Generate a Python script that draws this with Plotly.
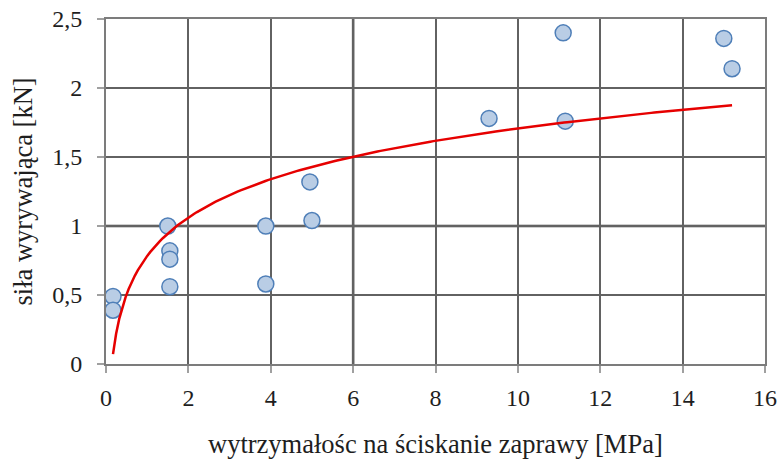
import numpy as np
import plotly.graph_objects as go

# Data
strength_mpa = [0.17, 0.17, 1.50, 1.55, 1.55, 1.55, 3.88, 3.88, 4.95, 5.00, 9.30, 11.10, 11.15, 15.00, 15.20]
pull_force_kn = [0.49, 0.39, 1.00, 0.82, 0.76, 0.56, 1.00, 0.58, 1.32, 1.04, 1.78, 2.40, 1.76, 2.36, 2.14]

x_ticks = [0, 2, 4, 6, 8, 10, 12, 14, 16]
y_ticks = [0, 0.5, 1, 1.5, 2, 2.5]
y_tick_labels = ["0", "0,5", "1", "1,5", "2", "2,5"]
emphasis_x = [6]
emphasis_y = [1]

x_title = "wytrzymałośc na ściskanie zaprawy [MPa]"
y_title = "siła wyrywająca [kN]"

# Logarithmic trend line fitted to the data (as a spreadsheet trendline would be)
lx = np.log(np.array(strength_mpa))
a, b = np.polyfit(lx, np.array(pull_force_kn), 1)
xt = np.linspace(min(strength_mpa), max(strength_mpa), 200)
yt = a * np.log(xt) + b

FONT = "Liberation Serif"
TXT = "#1e1e1e"
GRID = "#626262"
EDGE = "#7c7c7c"

fig = go.Figure()
fig.add_trace(go.Scatter(
    x=strength_mpa, y=pull_force_kn, mode="markers",
    marker=dict(size=16, color="#b9cde5", line=dict(color="#4f7fb8", width=1.5)),
    showlegend=False, hoverinfo="x+y"))
fig.add_trace(go.Scatter(
    x=xt, y=yt, mode="lines", line=dict(color="#e60000", width=2.5),
    showlegend=False, hoverinfo="skip"))

shapes = []
for xv in emphasis_x:
    shapes.append(dict(type="line", xref="x", yref="y", x0=xv, x1=xv, y0=0, y1=2.5,
                       line=dict(color="#3c3c3c", width=2.5), layer="below"))
for yv in emphasis_y:
    shapes.append(dict(type="line", xref="x", yref="y", x0=0, x1=16, y0=yv, y1=yv,
                       line=dict(color="#3c3c3c", width=2.5), layer="below"))

fig.update_layout(
    width=779, height=461,
    margin=dict(l=106, r=14, t=19, b=97),
    paper_bgcolor="white", plot_bgcolor="white",
    separators=", ",
    font=dict(family=FONT, size=24, color=TXT),
    shapes=shapes,
    xaxis=dict(range=[0, 16], tickvals=x_ticks, ticktext=[str(v) for v in x_ticks],
               showgrid=True, gridcolor=GRID, gridwidth=1.5, automargin=False,
               showline=True, linecolor=EDGE, linewidth=2, mirror=True,
               zeroline=False, ticks="outside", ticklen=7, tickcolor="#a0a0a0", tickwidth=1.5,
               tickfont=dict(family=FONT, size=24, color=TXT),
               ticklabelstandoff=4,
               fixedrange=True),
    yaxis=dict(range=[0, 2.5005], tickvals=y_ticks, ticktext=y_tick_labels,
               showgrid=True, gridcolor=GRID, gridwidth=1.5, automargin=False,
               showline=True, linecolor=EDGE, linewidth=2, mirror=True,
               zeroline=False, ticks="outside", ticklen=7, tickcolor="#a0a0a0", tickwidth=1.5,
               tickfont=dict(family=FONT, size=24, color=TXT),
               ticklabelstandoff=10,
               fixedrange=True),
    annotations=[
        dict(text=x_title, xref="paper", yref="paper", x=0.5, y=0,
             yshift=-80, showarrow=False, xanchor="center", yanchor="middle",
             font=dict(family=FONT, size=26.5, color=TXT)),
        dict(text=y_title, xref="paper", yref="paper", x=0, y=0.5, xshift=-84,
             showarrow=False, textangle=-90, xanchor="center", yanchor="middle",
             font=dict(family=FONT, size=26.5, color=TXT)),
    ],
)
fig.write_html("out.html", config={"displayModeBar": False},
               post_script="document.body.style.margin='0';")
